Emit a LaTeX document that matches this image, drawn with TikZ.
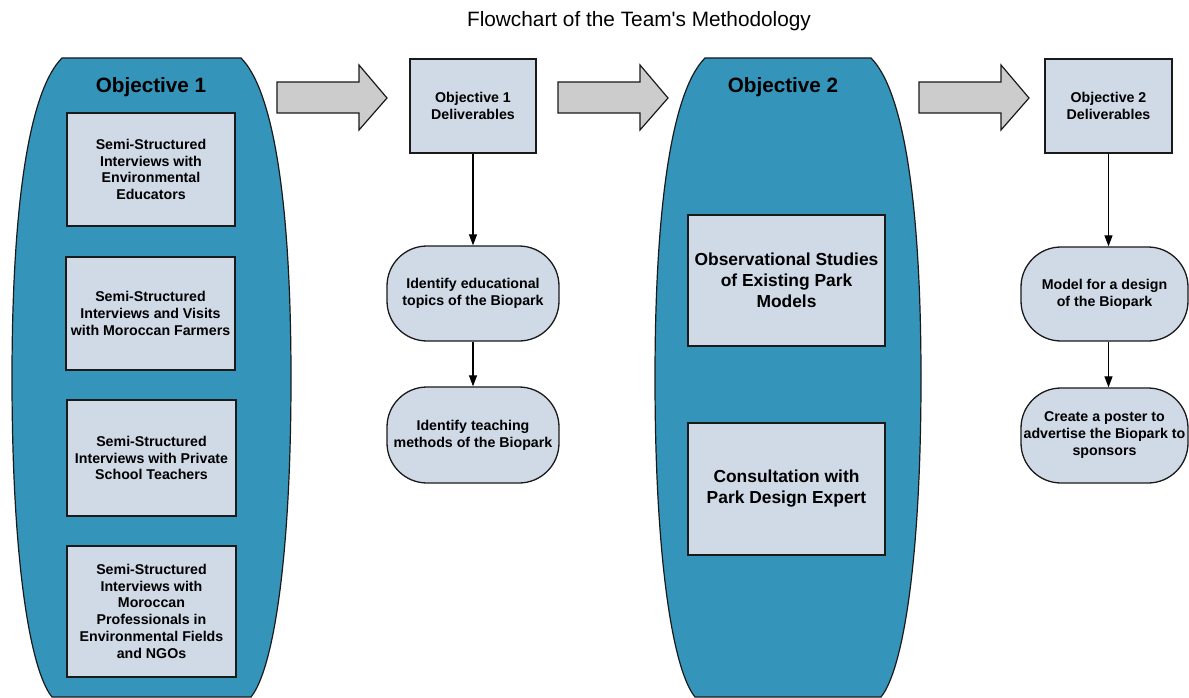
\documentclass[tikz,border=0pt]{standalone}
\usepackage{fontspec}
\setmainfont{Liberation Sans}
\usetikzlibrary{arrows.meta}
\definecolor{objblue}{HTML}{3494BA}
\definecolor{boxfill}{HTML}{CFDAE6}
\definecolor{arrgrey}{HTML}{CCCCCC}
\definecolor{edgecol}{HTML}{1A1A1A}
\begin{document}
\begin{tikzpicture}[x=1pt,y=-1pt,
  container/.style={fill=objblue,draw=edgecol,line width=1.2pt},
  subbox/.style={draw=edgecol,fill=boxfill,line width=1.3pt,inner sep=0pt,align=center,
    font=\bfseries\fontsize{14.2}{16.7}\selectfont},
  bigbox/.style={subbox,font=\bfseries\fontsize{17.4}{21}\selectfont},
  term/.style={draw=edgecol,fill=boxfill,line width=1.3pt,rounded corners=40pt,inner sep=0pt,
    align=center,font=\bfseries\fontsize{14.2}{17}\selectfont},
  blockarrow/.style={fill=arrgrey,draw=edgecol,line width=1.2pt,line join=miter},
  flow/.style={-{Triangle[length=11pt,width=8pt]},line width=1.2pt,draw=black},
  objtitle/.style={font=\bfseries\fontsize{20.7}{24}\selectfont}]
\useasboundingbox (0,0) rectangle (1189,698);
\clip (0,0) rectangle (1189,698);
\fill[white] (0,0) rectangle (1189,698);

% title
\node[font=\fontsize{20.8}{24}\selectfont] (title) at (639,21) {Flowchart of the Team\textquotesingle s Methodology};

% Objective 1 container
\draw[container] (62,58) -- (241,58)
  .. controls (273,90) and (291,200) .. (291,378)
  .. controls (291,560) and (273,670) .. (251,697)
  -- (52,697)
  .. controls (30,670) and (12,560) .. (12,378)
  .. controls (12,200) and (30,90) .. (62,58) -- cycle;
\node[objtitle] (o1) at (151,87) {Objective 1};

% Objective 2 container
\draw[container] (705,58) -- (871,58)
  .. controls (903,90) and (921,200) .. (921,378)
  .. controls (921,560) and (903,670) .. (881,697)
  -- (695,697)
  .. controls (673,670) and (655,560) .. (655,378)
  .. controls (655,200) and (673,90) .. (705,58) -- cycle;
\node[objtitle] (o2) at (783,87) {Objective 2};

% Objective 1 boxes
\node[subbox,minimum width=168pt,minimum height=113pt] (b1) at (151,169.5)
  {Semi-Structured\\Interviews with\\Environmental\\Educators};
\node[subbox,minimum width=169pt,minimum height=113pt] (b2) at (150.5,313.5)
  {Semi-Structured\\Interviews and Visits\\with Moroccan Farmers};
\node[subbox,minimum width=169pt,minimum height=116pt] (b3) at (151.5,458)
  {Semi-Structured\\Interviews with Private\\School Teachers};
\node[subbox,minimum width=169pt,minimum height=131pt] (b4) at (151.5,611.5)
  {Semi-Structured\\Interviews with\\Moroccan\\Professionals in\\Environmental Fields\\[1pt]and NGOs};

% Objective 2 boxes
\node[bigbox,minimum width=197pt,minimum height=131pt] (c1) at (786.5,280.5)
  {Observational Studies\\of Existing Park\\Models};
\node[bigbox,minimum width=197pt,minimum height=132pt] (c2) at (786.5,489)
  {Consultation with\\Park Design Expert};

% Deliverables
\node[subbox,minimum width=126pt,minimum height=94pt] (d1) at (473,106)
  {Objective 1\\Deliverables};
\node[subbox,minimum width=127pt,minimum height=94pt] (d2) at (1108.5,106)
  {Objective 2\\Deliverables};

% Terminals
\node[term,minimum width=172pt,minimum height=95pt] (t1) at (473,293.5)
  {Identify educational\\topics of the Biopark};
\node[term,minimum width=172pt,minimum height=96pt] (t2) at (473,435)
  {Identify teaching\\methods of the Biopark};
\node[term,minimum width=167pt,minimum height=94pt] (m1) at (1104.5,294)
  {Model for a design\\of the Biopark};
\node[term,minimum width=167pt,minimum height=95pt] (m2) at (1104.5,435.5)
  {Create a poster to\\advertise the Biopark to\\sponsors};

% flow arrows
\draw[flow] (d1.south) -- (t1.north);
\draw[flow] (t1.south) -- (t2.north);
\draw[flow] (d2.south) -- (d2.south |- m1.north);
\draw[flow] (d2.south |- m1.south) -- (d2.south |- m2.north);

% block arrows
\foreach \xa in {277,558,919}{
  \draw[blockarrow] (\xa,82) -- (\xa+82,82) -- (\xa+82,65) -- (\xa+110,98)
    -- (\xa+82,130) -- (\xa+82,113) -- (\xa,113) -- cycle;
}
\end{tikzpicture}
\end{document}
